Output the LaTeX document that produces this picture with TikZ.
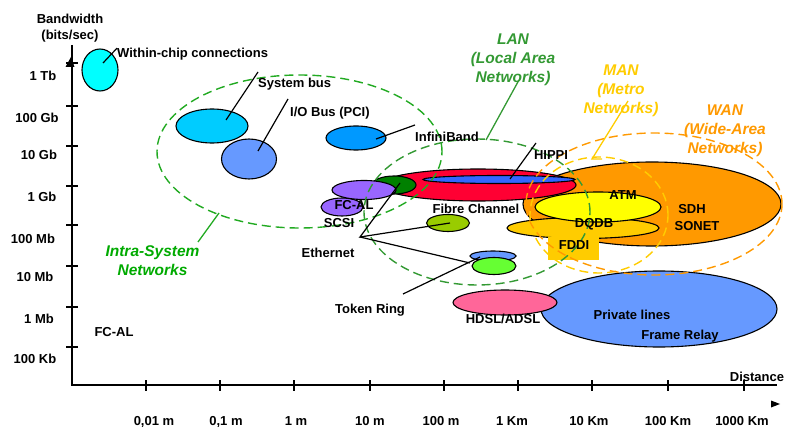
\documentclass[tikz,border=0pt]{standalone}
\usepackage{fontspec}
\setmainfont{Liberation Sans}
\usetikzlibrary{shapes.geometric}

\definecolor{chipcyan}{HTML}{00FFFF}
\definecolor{busblue}{HTML}{00CCFF}
\definecolor{periblue}{HTML}{6699FF}
\definecolor{ibblue}{HTML}{0099FF}
\definecolor{fcred}{HTML}{FF0033}
\definecolor{hippiblue}{HTML}{3366FF}
\definecolor{ethgreen}{HTML}{008000}
\definecolor{scsiviolet}{HTML}{9966FF}
\definecolor{fclime}{HTML}{99CC00}
\definecolor{trgreen}{HTML}{66FF33}
\definecolor{dslpink}{HTML}{FF6699}
\definecolor{wanorange}{HTML}{FF9900}
\definecolor{atmyellow}{HTML}{FFFF00}
\definecolor{mangold}{HTML}{FFCC00}
\definecolor{langreen}{HTML}{339933}
\definecolor{intragreen}{HTML}{00AA00}
\definecolor{intradash}{HTML}{22AA22}

\begin{document}
\begin{tikzpicture}[x=1pt,y=-1pt,
  blob/.style={ellipse, draw=black, line width=1.1pt, inner sep=0pt},
  zone/.style={ellipse, draw, line width=1.4pt, inner sep=0pt, dash pattern=on 9pt off 5pt},
  wire/.style={line width=1.2pt, black},
  axis/.style={line width=1.5pt, black},
  lbl/.style={font=\fontsize{13}{16}\selectfont\bfseries, inner sep=0pt, text height=9.3pt, text depth=0pt},
  netlbl/.style={font=\fontsize{15.5}{19}\selectfont\bfseries\itshape, inner sep=0pt, align=center}]
\useasboundingbox (0,0) rectangle (792,430);

% ---- axes ----
\draw[axis] (72,45) -- (72,385) -- (777,385);
\fill (71,57) -- (65.5,67) -- (74.5,67) -- cycle;
\fill (771,400.5) -- (780,404) -- (771,407.5) -- cycle;
\foreach \y in {63,106,146,186,225,266,307,347}
  \draw[axis] (66,\y) -- (78,\y);
\foreach \x in {146,220,294,370,444,518,592,668,744}
  \draw[axis] (\x,380) -- (\x,391);

\node[lbl] (yl1) at (43,76) {1 Tb};
\node[lbl] (yl2) at (37,118) {100 Gb};
\node[lbl] (yl3) at (39,155) {10 Gb};
\node[lbl] (yl4) at (42,197) {1 Gb};
\node[lbl] (yl5) at (33,239) {100 Mb};
\node[lbl] (yl6) at (35,277) {10 Mb};
\node[lbl] (yl7) at (39,319) {1 Mb};
\node[lbl] (yl8) at (35,359) {100 Kb};

\node[lbl] (xl1) at (154,421) {0,01 m};
\node[lbl] (xl2) at (226,421) {0,1 m};
\node[lbl] (xl3) at (296,421) {1 m};
\node[lbl] (xl4) at (370,421) {10 m};
\node[lbl] (xl5) at (441,421) {100 m};
\node[lbl] (xl6) at (512,421) {1 Km};
\node[lbl] (xl7) at (589,421) {10 Km};
\node[lbl] (xl8) at (668,421) {100 Km};
\node[lbl] (xl9) at (742,421) {1000 Km};

\node[font=\fontsize{13}{16}\selectfont\bfseries, inner sep=0pt, align=center] (ytitle) at (70,28.6) {Bandwidth\\(bits/sec)};
\node[lbl] (xtitle) at (757,377) {Distance};

% ---- technologies ----
\node[blob, fill=periblue, minimum width=236pt, minimum height=76pt] (private) at (659,309) {};
\node[blob, fill=dslpink, minimum width=104pt, minimum height=25pt] (hdsl) at (505,302.5) {};
\node[blob, fill=wanorange, minimum width=258pt, minimum height=84pt] (sdh) at (652,204) {};
\node[blob, fill=mangold, minimum width=152pt, minimum height=21pt] (dqdb) at (583,228) {};
\node[blob, fill=atmyellow, minimum width=126pt, minimum height=30pt] (atm) at (598,207) {};
\fill[mangold] (548,237) rectangle (599,260);
\node[blob, fill=fcred, minimum width=196pt, minimum height=32pt] (fibre) at (478,185) {};
\node[blob, fill=hippiblue, minimum width=152pt, minimum height=8pt] (hippi) at (499,179.5) {};
\node[blob, fill=ethgreen, minimum width=44pt, minimum height=18pt] (eth10) at (394,185) {};
\node[blob, fill=scsiviolet, minimum width=42pt, minimum height=18pt] (scsi) at (342,207) {};
\node[blob, fill=scsiviolet, minimum width=64pt, minimum height=19pt] (fcal) at (364,190) {};
\node[blob, fill=fclime, minimum width=43pt, minimum height=17pt] (eth100) at (448,223) {};
\node[blob, fill=periblue, minimum width=46pt, minimum height=10pt] (token) at (493,256) {};
\node[blob, fill=trgreen, minimum width=44pt, minimum height=17pt] (eth1k) at (494,266) {};
\node[blob, fill=busblue, minimum width=72pt, minimum height=34pt] (sysbus) at (212,126) {};
\node[blob, fill=periblue, minimum width=55pt, minimum height=40pt] (iobus) at (249,159) {};
\node[blob, fill=chipcyan, minimum width=36pt, minimum height=42pt] (chip) at (100,70) {};
\node[blob, fill=ibblue, minimum width=60pt, minimum height=24pt] (infini) at (356,138) {};

% ---- network classes ----
\node[zone, draw=intradash, minimum width=285pt, minimum height=153pt] (intra) at (299.5,151.5) {};
\node[zone, draw=langreen, minimum width=226pt, minimum height=146pt] (lan) at (477,212) {};
\node[zone, draw=mangold, minimum width=138pt, minimum height=116pt] (man) at (599,215) {};
\node[zone, draw=wanorange, minimum width=256pt, minimum height=142pt] (wan) at (654,204) {};

% ---- labels ----
\node[lbl, anchor=west] (chiplbl) at (117,53) {Within-chip connections};
\node[lbl, anchor=west] (sysbuslbl) at (258,83) {System bus};
\node[lbl, anchor=west] (iobuslbl) at (290,112) {I/O Bus (PCI)};
\node[lbl, anchor=west] (infinilbl) at (415,137) {InfiniBand};
\node[lbl] (hippilbl) at (551,155) {HIPPI};
\node[lbl] (fcallbl) at (354,205) {FC-AL};
\node[lbl] (scsilbl) at (339,223) {SCSI};
\node[lbl] (ethlbl) at (328,253) {Ethernet};
\node[lbl] (fibrelbl) at (476,209) {Fibre Channel};
\node[lbl] (tokenlbl) at (370,309) {Token Ring};
\node[lbl] (hdsllbl) at (503,319) {HDSL/ADSL};
\node[lbl] (atmlbl) at (623,195) {ATM};
\node[lbl] (dqdblbl) at (594,223) {DQDB};
\node[lbl] (fddilbl) at (574,245) {FDDI};
\node[lbl] (sdhlbl) at (692,209) {SDH};
\node[lbl] (sonetlbl) at (697,226) {SONET};
\node[lbl] (privlbl) at (632,315) {Private lines};
\node[lbl] (framelbl) at (680,335) {Frame Relay};
\node[lbl] (fcalfar) at (114,332) {FC-AL};

\node[netlbl, text=intragreen] (intralbl) at (152.5,260.4) {Intra-System\\Networks};
\node[netlbl, text=langreen] (lanlbl) at (513,59.6) {LAN\\(Local Area\\Networks)};
\node[netlbl, text=mangold] (manlbl) at (621,90.6) {MAN\\(Metro\\Networks)};
\node[netlbl, text=wanorange] (wanlbl) at (725,130.6) {WAN\\(Wide-Area\\Networks)};

% ---- connector end points ----
\coordinate (chipTip) at (103,63);
\coordinate (sysbusTip) at (226,120);
\coordinate (sysbusEnd) at (258,72);
\coordinate (iobusTip) at (258,151);
\coordinate (iobusEnd) at (288,99);
\coordinate (infiniTip) at (376,139);
\coordinate (infiniEnd) at (415,125);
\coordinate (hippiTip) at (510,179);
\coordinate (hippiEnd) at (536,143);
\coordinate (ethHub) at (360,237);
\coordinate (eth10Tip) at (400,183);
\coordinate (eth100Tip) at (450,223);
\coordinate (eth1kTip) at (470,263);
\coordinate (tokenStart) at (403,294);
\coordinate (tokenTip) at (480,257);
\coordinate (intraTip) at (219,213);
\coordinate (intraEnd) at (198,242);
\coordinate (lanTip) at (486,140);
\coordinate (lanEnd) at (519,80);
\coordinate (manEnd) at (628,101);
\coordinate (manTip) at (592,159);
\coordinate (manFoot) at (602,159);

% ---- connectors ----
\draw[wire] (chipTip) -- (chiplbl.north west);
\draw[wire] (sysbusTip) -- (sysbusEnd);
\draw[wire] (iobusTip) -- (iobusEnd);
\draw[wire] (infiniTip) -- (infiniEnd);
\draw[wire] (hippiTip) -- (hippiEnd);
\draw[wire] (eth10Tip) -- (ethHub) -- (eth100Tip);
\draw[wire] (ethHub) -- (eth1kTip);
\draw[wire] (tokenStart) -- (tokenTip);
\draw[line width=1.3pt, intradash] (intraTip) -- (intraEnd);
\draw[line width=1.3pt, langreen] (lanTip) -- (lanEnd);
\draw[line width=1.3pt, mangold] (manEnd) -- (manTip) -- (manFoot);
\end{tikzpicture}
\end{document}
